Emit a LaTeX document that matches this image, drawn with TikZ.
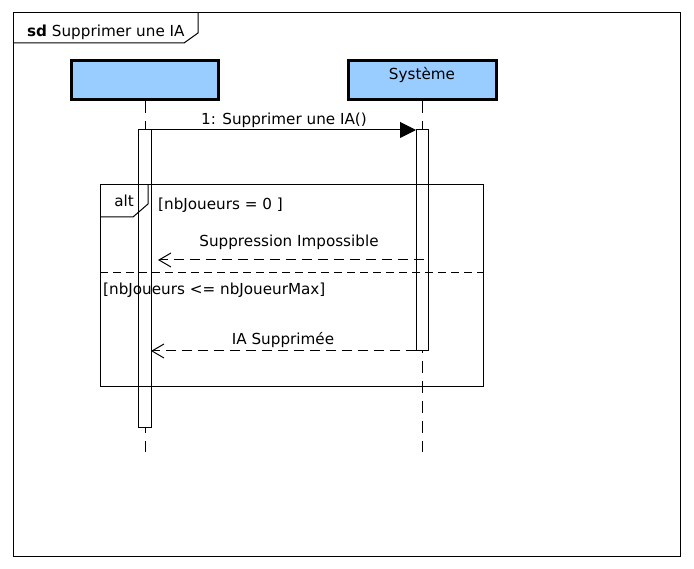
\documentclass[tikz,border=0pt]{standalone}
\usepackage{fontspec}
\setmainfont{DejaVu Sans}
\usetikzlibrary{arrows.meta}
\definecolor{lifeblue}{RGB}{153,204,255}
\tikzset{
  x=1pt, y=-1pt,
  thin line/.style={line width=1pt, draw=black},
  headbox/.style={draw=black, line width=3pt, fill=lifeblue},
  actbox/.style={draw=black, line width=1pt, fill=white},
  lifeline/.style={line width=1pt, dash pattern=on 12pt off 8pt},
  sepline/.style={line width=1pt, dash pattern=on 8pt off 5pt},
  reply/.style={line width=1pt, dash pattern=on 10pt off 6pt, -{Straight Barb[length=12pt,width=14pt]}},
  callmsg/.style={line width=1pt, -{Triangle[length=16pt,width=16pt]}},
  lbl/.style={font=\fontsize{15.2}{17}\selectfont, inner sep=0pt, anchor=base},
}
\begin{document}
\begin{tikzpicture}
\useasboundingbox (0,0) rectangle (694,569);
\fill[white] (0,0) rectangle (694,569);
% outer frame
\draw[thin line] (13,13) rectangle (680,556);
\draw[thin line] (13,43) -- (184,43) -- (198,33) -- (198,13);
\node[lbl, anchor=base west] (title) at (27,37) {\textbf{sd} Supprimer une IA};
% lifeline heads
\draw[headbox] (71,61) rectangle (218,100);
\draw[headbox] (348,61) rectangle (496,100);
\node[lbl] (sys) at (422,80) {Système};
% lifelines
\coordinate (l1top) at (145,101);
\coordinate (l1bot) at (145,452);
\coordinate (l2top) at (422,101);
\coordinate (l2bot) at (422,452);
\draw[lifeline] (l1top) -- (l1bot);
\draw[lifeline] (l2top) -- (l2bot);
% activations
\draw[actbox] (138,130) rectangle (151,428);
\draw[actbox] (416,130) rectangle (428,351);
% message 1
\coordinate (m1s) at (151,130);
\coordinate (m1e) at (416,130);
\draw[callmsg] (m1s) -- (m1e);
\node[lbl] (m1l) at (284,125) {1: Supprimer une IA()};
% alt frame
\draw[thin line] (100,185) rectangle (483,387);
\draw[thin line] (100,217) -- (133,217) -- (148,204) -- (148,185);
\node[lbl] (alt) at (124,207) {alt};
\node[lbl, anchor=base west] (g1) at (158,210) {[nbJoueurs = 0 ]};
\coordinate (sepa) at (100,273);
\coordinate (sepb) at (483,273);
\draw[sepline] (sepa) -- (sepb);
\node[lbl, anchor=base west] (g2) at (103,295) {[nbJoueurs <= nbJoueurMax]};
% reply 1
\coordinate (r1s) at (424,260);
\coordinate (r1e) at (158,260);
\draw[reply] (r1s) -- (r1e);
\node[lbl] (r1l) at (289,247) {Suppression Impossible};
% reply 2
\coordinate (r2s) at (416,351);
\coordinate (r2e) at (151,351);
\draw[reply] (r2s) -- (r2e);
\node[lbl] (r2l) at (283,345) {IA Supprimée};
\end{tikzpicture}
\end{document}
